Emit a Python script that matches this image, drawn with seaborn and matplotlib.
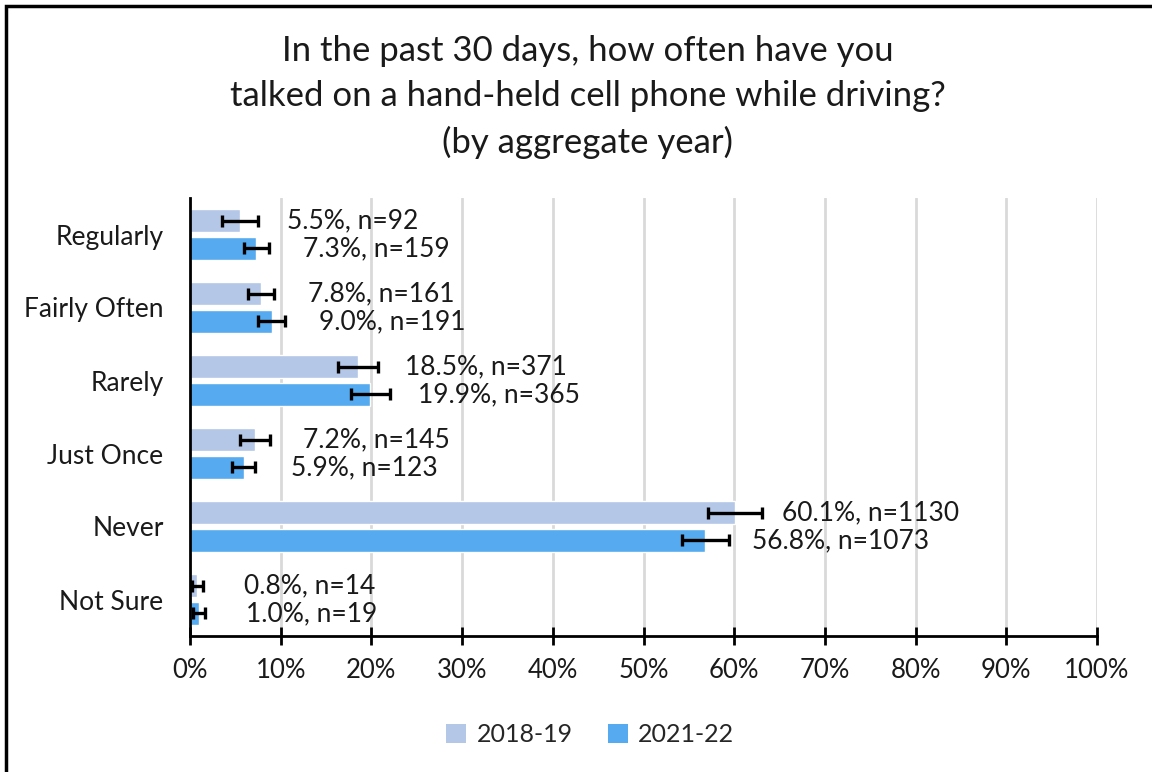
import matplotlib
matplotlib.use("Agg")
import matplotlib.pyplot as plt
import seaborn as sns
import pandas as pd
from matplotlib.patches import Rectangle, Patch
from matplotlib.container import BarContainer

categories = ["Regularly", "Fairly Often", "Rarely", "Just Once", "Never", "Not Sure"]
years = ["2018-19", "2021-22"]
pct_2018 = [5.5, 7.8, 18.5, 7.2, 60.1, 0.8]
pct_2021 = [7.3, 9.0, 19.9, 5.9, 56.8, 1.0]
n_2018 = [92, 161, 371, 145, 1130, 14]
n_2021 = [159, 191, 365, 123, 1073, 19]
err_2018 = [2.0, 1.45, 2.2, 1.65, 3.0, 0.6]
err_2021 = [1.4, 1.45, 2.2, 1.25, 2.6, 0.65]
colors = ["#b4c7e7", "#55aaf0"]

sns.set_theme(style="white")
plt.rcParams["font.family"] = ["Lato", "DejaVu Sans"]

df = pd.DataFrame({
    "Response": categories * 2,
    "Year": [years[0]] * 6 + [years[1]] * 6,
    "Pct": pct_2018 + pct_2021,
})

fig = plt.figure(figsize=(11.52, 7.72), dpi=100)
ax = fig.add_axes([190 / 1152, 1 - 636 / 772, (1097 - 190) / 1152, (636 - 198) / 772])

sns.barplot(data=df, y="Response", x="Pct", hue="Year", order=categories,
            hue_order=years, palette=colors, orient="h", width=0.76, gap=0.16,
            errorbar=None, legend=False, ax=ax, saturation=1)

errs = [err_2018, err_2021]
ns = [n_2018, n_2021]
vals = [pct_2018, pct_2021]
bar_containers = [c for c in ax.containers if isinstance(c, BarContainer)]
for ci, cont in enumerate(bar_containers):
    for bi, bar in enumerate(cont.patches):
        yc = bar.get_y() + bar.get_height() / 2
        w = bar.get_width()
        ax.errorbar(w, yc, xerr=errs[ci][bi], fmt="none", ecolor="black",
                    elinewidth=2.4, capsize=4.5, capthick=2.4, zorder=4)
        ax.annotate(f"{vals[ci][bi]:.1f}%, n={ns[ci][bi]}", xy=(w, yc),
                    xytext=(34, 0), textcoords="offset points",
                    ha="left", va="center", fontsize=19, color="#1a1a1a")

ax.set_xlim(0, 100)
ax.set_ylim(5.5, -0.5)
ax.set_xticks(range(0, 101, 10))
ax.set_xticklabels([f"{t}%" for t in range(0, 101, 10)])
ax.xaxis.grid(True, color="#d9d9d9", linewidth=2)
ax.set_axisbelow(True)
ax.set_xlabel("")
ax.set_ylabel("")
for s in ["top", "right"]:
    ax.spines[s].set_visible(False)
for s in ["left", "bottom"]:
    ax.spines[s].set_color("black")
    ax.spines[s].set_linewidth(2)
ax.tick_params(axis="x", direction="inout", length=13, width=2, color="black",
               labelsize=18.5, pad=9, labelcolor="#1a1a1a", bottom=True)
ax.tick_params(axis="y", length=0, labelsize=19, pad=19, labelcolor="#1a1a1a")

fig.text(588 / 1152, 1 - 97 / 772,
         "In the past 30 days, how often have you\ntalked on a hand-held cell phone while driving?\n(by aggregate year)",
         ha="center", va="center", fontsize=25, linespacing=1.5, color="#1a1a1a")

handles = [Patch(facecolor=c, edgecolor="none") for c in colors]
fig.legend(handles, years, loc="center", bbox_to_anchor=(590 / 1152, 1 - 735 / 772),
           ncol=2, frameon=False, fontsize=18, handlelength=0.8, handleheight=0.8,
           handletextpad=0.4, columnspacing=1.4)

fig.patches.append(Rectangle((6 / 1152, -0.1), 1.2, 1.1 - 6 / 772,
                             transform=fig.transFigure, fill=False,
                             edgecolor="black", linewidth=2.5, zorder=10))

fig.savefig("out.png", dpi=100, facecolor="white")
